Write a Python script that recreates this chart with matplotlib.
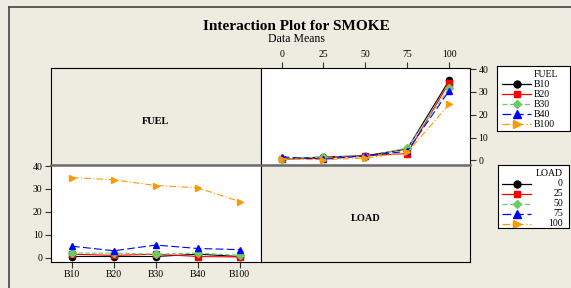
import matplotlib
matplotlib.use("Agg")
import matplotlib.pyplot as plt
from matplotlib.lines import Line2D

# cell means of SMOKE
fuels = ['B10', 'B20', 'B30', 'B40', 'B100']
loads = [0, 25, 50, 75, 100]
smoke_B10 = [0.5, 1.5, 2.0, 5.0, 35.0]
smoke_B20 = [0.5, 1.0, 2.0, 3.0, 34.0]
smoke_B30 = [0.5, 1.5, 1.5, 5.5, 31.5]
smoke_B40 = [1.5, 0.5, 2.0, 4.0, 30.5]
smoke_B100 = [0.5, 0.3, 1.0, 3.5, 24.5]
by_fuel = [smoke_B10, smoke_B20, smoke_B30, smoke_B40, smoke_B100]
by_load = [list(col) for col in zip(*by_fuel)]

colors = ['black', 'red', '#66CC66', 'blue', '#FF9900']
styles = ['-', '-', (0, (4, 2)), (0, (7, 3)), (0, (6, 2, 1, 2))]
markers = ['o', 's', 'D', '^', '>']
msizes = [4.5, 4.5, 4, 5, 5]

bg = '#EEEBE0'
serif = 'Liberation Serif'
plt.rcParams['font.family'] = serif

W, H = 571, 288
fig = plt.figure(figsize=(W / 100, H / 100), dpi=100)
fig.patch.set_facecolor(bg)

def fx(px):
    return px / W

def fy(py):
    return 1 - py / H

x0, xm, x1 = 51, 260.7, 470
y0, ym, y1 = 67.7, 164.7, 262

def add(xa, ya, xb, yb):
    return fig.add_axes([fx(xa), fy(yb), fx(xb) - fx(xa), fy(ya) - fy(yb)])

ax_tl = add(x0, y0, xm, ym)
ax_tr = add(xm, y0, x1, ym)
ax_bl = add(x0, ym, xm, y1)
ax_br = add(xm, ym, x1, y1)

for ax in (ax_tl, ax_br):
    ax.set_facecolor(bg)
    ax.set_xticks([])
    ax.set_yticks([])
ax_tl.text(0.5, 0.45, 'FUEL', transform=ax_tl.transAxes, ha='center', va='center',
           fontsize=7.5, fontweight='bold')
ax_br.text(0.5, 0.45, 'LOAD', transform=ax_br.transAxes, ha='center', va='center',
           fontsize=7.5, fontweight='bold')

# SMOKE vs LOAD, one line per fuel
for i, f in enumerate(fuels):
    ax_tr.plot(loads, by_fuel[i], color=colors[i], linestyle=styles[i], lw=0.8,
               marker=markers[i], ms=msizes[i], mec=colors[i])
ax_tr.set_xlim(-12.5, 112.5)
ax_tr.set_ylim(-1.9, 40.6)
ax_tr.set_xticks(loads)
ax_tr.set_yticks([0, 10, 20, 30, 40])
ax_tr.xaxis.tick_top()
ax_tr.yaxis.tick_right()

# SMOKE vs FUEL, one line per load
xf = list(range(len(fuels)))
for j, l in enumerate(loads):
    ax_bl.plot(xf, by_load[j], color=colors[j], linestyle=styles[j], lw=0.8,
               marker=markers[j], ms=msizes[j], mec=colors[j])
ax_bl.set_xlim(-0.5, 4.5)
ax_bl.set_ylim(-1.9, 40.6)
ax_bl.set_xticks(xf)
ax_bl.set_xticklabels(fuels)
ax_bl.set_yticks([0, 10, 20, 30, 40])

for ax in (ax_tr, ax_bl):
    ax.set_facecolor('white')
    ax.tick_params(labelsize=7, length=4, width=0.8, pad=2, color='#333333')

for ax in (ax_tl, ax_tr, ax_bl, ax_br):
    for s in ax.spines.values():
        s.set_linewidth(0.8)
        s.set_color('black')

# grey divider between the rows
fig.add_artist(Line2D([fx(x0), fx(x1)], [fy(ym), fy(ym)], color='#6E6E6E', lw=1.8))

# outer frame (left and top edges)
fig.add_artist(Line2D([fx(9), fx(9)], [fy(7), 0], color='#444444', lw=1.2))
fig.add_artist(Line2D([fx(9), 1], [fy(7), fy(7)], color='#444444', lw=1.2))

fig.text(fx(296), fy(27), 'Interaction Plot for SMOKE', ha='center', va='center',
         fontsize=11, fontweight='bold')
fig.text(fx(296), fy(39), 'Data Means', ha='center', va='center', fontsize=8.5)

# legends drawn in their own boxes
def legend_box(xa, ya, xb, yb, title, labels, right):
    lg = add(xa, ya, xb, yb)
    lg.set_facecolor('white')
    lg.set_xlim(xa, xb)
    lg.set_ylim(yb, ya)
    lg.set_xticks([])
    lg.set_yticks([])
    for s in lg.spines.values():
        s.set_linewidth(0.8)
    ty = ya + 9
    if right:
        lg.text(563, ty, title, ha='right', va='center', fontsize=7)
    else:
        lg.text(534, ty, title, ha='left', va='center', fontsize=7)
    for k, lab in enumerate(labels):
        yy = ya + 18.5 + k * 10
        lg.plot([502, 531], [yy, yy], color=colors[k], linestyle=styles[k], lw=0.9)
        lg.plot([516.5], [yy], color=colors[k], marker=markers[k], ms=msizes[k] + 0.5)
        if right:
            lg.text(563, yy, lab, ha='right', va='center', fontsize=7)
        else:
            lg.text(534, yy, lab, ha='left', va='center', fontsize=7)

legend_box(497, 65.7, 570, 131, 'FUEL', fuels, False)
legend_box(498, 165, 569, 228, 'LOAD', [str(v) for v in loads], True)

fig.savefig('out.png', dpi=100, facecolor=bg)
